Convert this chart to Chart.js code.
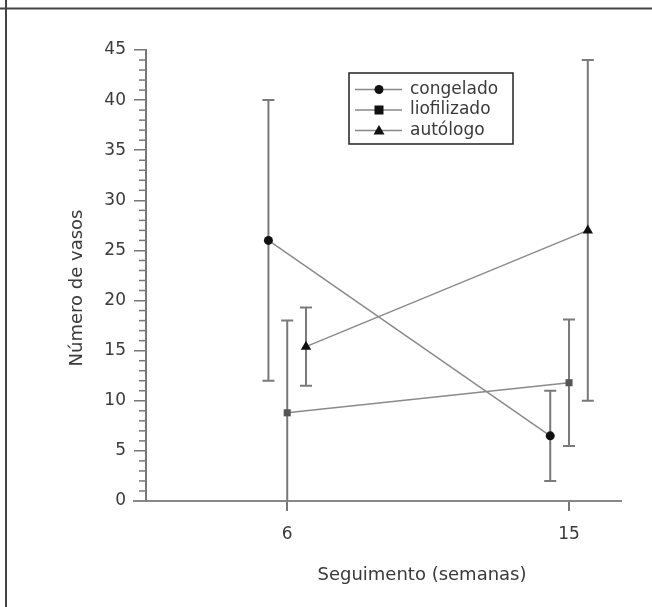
<!DOCTYPE html>
<html>
<head>
<meta charset="utf-8">
<script src="https://cdn.jsdelivr.net/npm/chart.js@4/dist/chart.umd.min.js"></script>
<style>body{margin:0;background:#fff}</style>
</head>
<body>
<canvas id="chart" width="652" height="607"></canvas>
<script>
const weeks = [6, 15];
const seriesNames = ['congelado', 'liofilizado', 'autólogo'];
const congelado = [26, 6.5];
const congeladoLow = [12, 2];
const congeladoHigh = [40, 11];
const liofilizado = [8.8, 11.8];
const liofilizadoLow = [0, 5.5];
const liofilizadoHigh = [18, 18.1];
const autologo = [15.4, 27];
const autologoLow = [11.5, 10];
const autologoHigh = [19.3, 44];
const yTicks = [0, 5, 10, 15, 20, 25, 30, 35, 40, 45];

const means = [congelado, liofilizado, autologo];
const lows = [congeladoLow, liofilizadoLow, autologoLow];
const highs = [congeladoHigh, liofilizadoHigh, autologoHigh];
const offsets = [-0.6, 0, 0.6];
const styles = ['circle', 'rect', 'triangle'];
const fills = ['#111', '#555', '#111'];
const FONT = '"DejaVu Sans", sans-serif';
const TEXT = '#3a3a3a';

function marker(ctx, style, x, y, fill) {
  ctx.fillStyle = fill;
  ctx.beginPath();
  if (style === 'circle') {
    ctx.arc(x, y, 4.5, 0, Math.PI * 2);
  } else if (style === 'rect') {
    ctx.rect(x - 4.5, y - 4.5, 9, 9);
  } else {
    ctx.moveTo(x, y - 5.5);
    ctx.lineTo(x + 5.5, y + 4);
    ctx.lineTo(x - 5.5, y + 4);
    ctx.closePath();
  }
  ctx.fill();
}

const errorBars = {
  id: 'errorBars',
  beforeDatasetsDraw(chart) {
    const { ctx, scales: { x, y } } = chart;
    ctx.save();
    ctx.strokeStyle = '#7a7a7a';
    ctx.lineWidth = 2;
    seriesNames.forEach((_, i) => {
      weeks.forEach((w, j) => {
        const px = x.getPixelForValue(w + offsets[i]);
        const top = y.getPixelForValue(highs[i][j]);
        const bot = y.getPixelForValue(lows[i][j]);
        ctx.beginPath();
        ctx.moveTo(px, top);
        ctx.lineTo(px, bot);
        ctx.moveTo(px - 6, top);
        ctx.lineTo(px + 6, top);
        if (lows[i][j] > 0) {
          ctx.moveTo(px - 6, bot);
          ctx.lineTo(px + 6, bot);
        }
        ctx.stroke();
      });
    });
    ctx.restore();
  }
};

const extras = {
  id: 'extras',
  afterDraw(chart) {
    const { ctx, chartArea, scales: { y } } = chart;
    ctx.save();
    // minor ticks
    ctx.strokeStyle = '#777';
    ctx.lineWidth = 1.5;
    for (let v = 0; v <= 45; v++) {
      if (v % 5 === 0) continue;
      const py = y.getPixelForValue(v);
      ctx.beginPath();
      ctx.moveTo(chartArea.left - 7, py);
      ctx.lineTo(chartArea.left, py);
      ctx.stroke();
    }
    // x axis runs a little past the y axis
    ctx.strokeStyle = '#888';
    ctx.lineWidth = 2;
    ctx.beginPath();
    ctx.moveTo(chartArea.left - 13, chartArea.bottom);
    ctx.lineTo(chartArea.left, chartArea.bottom);
    ctx.stroke();

    // axis titles
    ctx.fillStyle = TEXT;
    ctx.font = '18px ' + FONT;
    ctx.textAlign = 'center';
    ctx.textBaseline = 'middle';
    ctx.fillText('Seguimento (semanas)', 422, 575);
    ctx.translate(77, 288);
    ctx.rotate(-Math.PI / 2);
    ctx.fillText('Número de vasos', 0, 0);
    ctx.setTransform(1, 0, 0, 1, 0, 0);

    // legend
    ctx.strokeStyle = '#222';
    ctx.lineWidth = 1.5;
    ctx.strokeRect(349, 73, 164, 71);
    ctx.font = '17px ' + FONT;
    seriesNames.forEach((name, i) => {
      const ly = 89.5 + i * 20.5;
      ctx.strokeStyle = '#888';
      ctx.lineWidth = 1.5;
      ctx.beginPath();
      ctx.moveTo(355, ly);
      ctx.lineTo(402, ly);
      ctx.stroke();
      marker(ctx, styles[i], 379, ly, '#111');
      ctx.fillStyle = TEXT;
      ctx.textAlign = 'left';
      ctx.fillText(name, 410, ly);
    });

    // page frame
    ctx.strokeStyle = '#444';
    ctx.lineWidth = 2;
    ctx.beginPath();
    ctx.moveTo(0, 8.5);
    ctx.lineTo(652, 8.5);
    ctx.moveTo(6, 0);
    ctx.lineTo(6, 607);
    ctx.stroke();
    ctx.restore();
  }
};

new Chart(document.getElementById('chart'), {
  type: 'line',
  data: {
    datasets: seriesNames.map((name, i) => ({
      label: name,
      data: weeks.map((w, j) => ({ x: w + offsets[i], y: means[i][j] })),
      borderColor: '#8a8a8a',
      borderWidth: 1.5,
      pointStyle: styles[i],
      pointRadius: styles[i] === 'rect' ? 5 : (styles[i] === 'triangle' ? 6 : 4.5),
      pointBackgroundColor: fills[i],
      pointBorderColor: fills[i],
      pointBorderWidth: 0
    }))
  },
  options: {
    responsive: false,
    animation: false,
    layout: { padding: { top: 50, right: 31, left: 0, bottom: 0 } },
    plugins: { legend: { display: false }, tooltip: { enabled: false } },
    scales: {
      x: {
        type: 'linear',
        min: 1.49,
        max: 16.66,
        afterBuildTicks: s => { s.ticks = weeks.map(v => ({ value: v })); },
        afterFit: s => { s.height = 106; },
        grid: { drawOnChartArea: false, tickLength: 10, color: '#777', lineWidth: 2 },
        border: { color: '#888', width: 2 },
        ticks: { padding: 13, color: TEXT, font: { family: FONT, size: 17 } }
      },
      y: {
        min: 0,
        max: 45,
        afterBuildTicks: s => { s.ticks = yTicks.map(v => ({ value: v })); },
        afterFit: s => { s.width = 146; },
        grid: { drawOnChartArea: false, tickLength: 12, color: '#777', lineWidth: 1.5 },
        border: { color: '#777', width: 2 },
        ticks: { padding: 8, color: TEXT, font: { family: FONT, size: 17 } }
      }
    }
  },
  plugins: [errorBars, extras]
});
</script>
</body>
</html>
